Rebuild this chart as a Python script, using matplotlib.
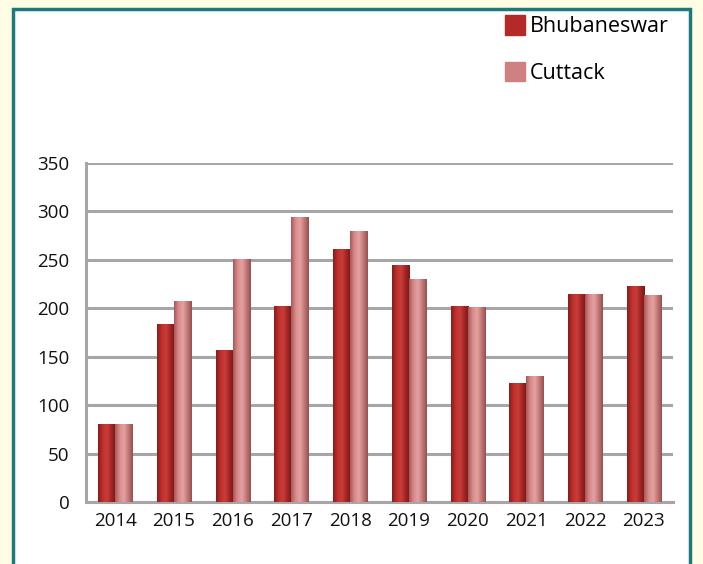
import matplotlib.pyplot as plt
import numpy as np
from matplotlib.patches import Rectangle
from matplotlib.colors import LinearSegmentedColormap

years = ['2014', '2015', '2016', '2017', '2018', '2019', '2020', '2021', '2022', '2023']
bhubaneswar = [80, 184, 157, 202, 261, 244, 202, 123, 215, 223]
cuttack = [80, 207, 251, 294, 280, 230, 201, 130, 215, 214]

plt.rcParams['font.family'] = ['Open Sans', 'DejaVu Sans']

fig = plt.figure(figsize=(7.03, 5.64), dpi=100, facecolor='#fffde3')

# teal frame with white inside
frame = Rectangle((13 / 703, -0.05), 677 / 703, 1 - 9 / 564 + 0.05, transform=fig.transFigure,
                  facecolor='white', edgecolor='#1b7b7b', linewidth=2.5, zorder=-5)
fig.patches.append(frame)

ax = fig.add_axes([86 / 703, 1 - 502 / 564, 587 / 703, (502 - 162.7) / 564])
ax.set_facecolor('none')

x = np.arange(len(years))
w = 0.29
b1 = ax.bar(x - w / 2, bhubaneswar, w, color='#c0332f', zorder=3, label='Bhubaneswar')
b2 = ax.bar(x + w / 2, cuttack, w, color='#d98b8b', zorder=3, label='Cuttack')

# shaded look for the bars
cm1 = LinearSegmentedColormap.from_list('b', ['#8a1b1b', '#bd302d', '#c93d38', '#a52624', '#761818'])
cm2 = LinearSegmentedColormap.from_list('c', ['#a85858', '#d88a8a', '#e4a2a0', '#c47878', '#965050'])
grad = np.linspace(0, 1, 64).reshape(1, -1)
for bars, cm in ((b1, cm1), (b2, cm2)):
    for p in bars:
        x0, y0 = p.get_x(), p.get_y()
        im = ax.imshow(grad, cmap=cm, aspect='auto', zorder=4,
                       extent=[x0, x0 + p.get_width(), y0, y0 + p.get_height()])
        im.set_clip_path(p)

ax.set_xlim(-0.5, len(years) - 0.5)
ax.set_ylim(0, 350)
ax.set_yticks(range(0, 351, 50))
ax.set_xticks(x)
ax.set_xticklabels(years)
ax.tick_params(length=0, labelsize=13.5, colors='#111111')
ax.tick_params(axis='y', pad=12)
ax.tick_params(axis='x', pad=7)
ax.yaxis.grid(True, color='#a6a6a6', linewidth=2.2, zorder=1)
for s in ['top', 'right']:
    ax.spines[s].set_visible(False)
for s in ['left', 'bottom']:
    ax.spines[s].set_color('#a6a6a6')
    ax.spines[s].set_linewidth(2.2)

leg = fig.legend(handles=[b1, b2], loc='upper left', bbox_to_anchor=(486 / 703, 1 + 4 / 564),
                 frameon=False, fontsize=15.5, labelspacing=1.15, handlelength=0.9,
                 handleheight=1.0, handletextpad=0.25)
for h, c in zip(leg.legend_handles, ['#b42a28', '#cf8080']):
    h.set_color(c)

fig.savefig('out.png', dpi=100, facecolor=fig.get_facecolor())
